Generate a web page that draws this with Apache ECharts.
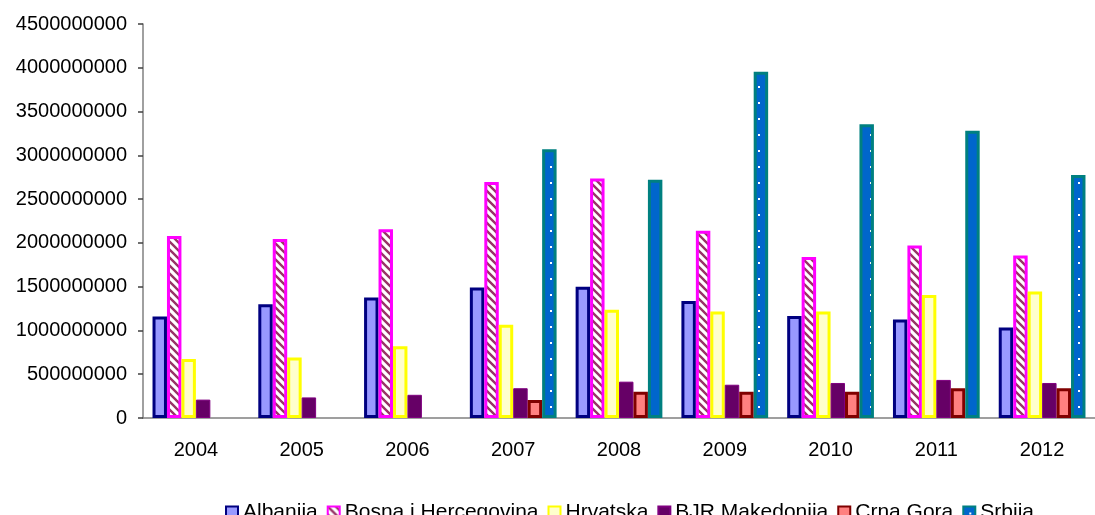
<!DOCTYPE html>
<html>
<head>
<meta charset="utf-8">
<script src="https://cdn.jsdelivr.net/npm/echarts@6/dist/echarts.min.js"></script>
<style>
html,body{margin:0;padding:0;background:#fff;}
#chart{width:1095px;height:515px;}
</style>
</head>
<body>
<div id="chart"></div>
<script>
var years = ['2004','2005','2006','2007','2008','2009','2010','2011','2012'];
var seriesNames = ['Albanija','Bosna i Hercegovina','Hrvatska','BJR Makedonija','Crna Gora','Srbija'];
var albanija   = [1160000000,1300000000,1375000000,1490000000,1500000000,1335000000,1165000000,1125000000,1035000000];
var bosna      = [2080000000,2045000000,2155000000,2695000000,2735000000,2140000000,1840000000,1970000000,1855000000];
var hrvatska   = [675000000,690000000,820000000,1065000000,1235000000,1215000000,1215000000,1405000000,1445000000];
var makedonija = [210000000,235000000,265000000,340000000,415000000,380000000,400000000,435000000,400000000];
var crnaGora   = [null,null,null,205000000,300000000,300000000,300000000,340000000,340000000];
var srbija     = [null,null,null,3070000000,2720000000,3955000000,3355000000,3280000000,2775000000];
var yTicks = {min:0, max:4500000000, interval:500000000};

function stripePattern(){
  var c = document.createElement('canvas');
  c.width = 8; c.height = 8;
  var g = c.getContext('2d');
  g.fillStyle = '#ffffff'; g.fillRect(0,0,8,8);
  g.strokeStyle = '#993366'; g.lineWidth = 2.4;
  g.beginPath();
  g.moveTo(-2,-2); g.lineTo(10,10);
  g.moveTo(-6,2); g.lineTo(2,10);
  g.moveTo(6,-2); g.lineTo(14,6);
  g.stroke();
  return c;
}
function dotPattern(){
  var c = document.createElement('canvas');
  c.width = 16; c.height = 16;
  var g = c.getContext('2d');
  g.fillStyle = '#0066CC'; g.fillRect(0,0,16,16);
  g.fillStyle = '#ffffff';
  g.fillRect(6,6,2,2);
  return c;
}

var styles = [
  {color:'#9999FF', borderColor:'#000080', borderWidth:3},
  {color:{image:stripePattern(), repeat:'repeat'}, borderColor:'#FF00FF', borderWidth:3},
  {color:'#FFFFCC', borderColor:'#FFFF00', borderWidth:3},
  {color:'#660066', borderColor:'#800080', borderWidth:1},
  {color:'#FF8080', borderColor:'#800000', borderWidth:3},
  {color:{image:dotPattern(), repeat:'repeat'}, borderColor:'#008080', borderWidth:3}
];
var dataSets = [albanija,bosna,hrvatska,makedonija,crnaGora,srbija];

var chart = echarts.init(document.getElementById('chart'), null, {renderer:'canvas'});
var series = seriesNames.map(function(n,i){
  return {
    name:n, type:'bar', data:dataSets[i],
    barGap:'0%', barCategoryGap:'18%',
    itemStyle:styles[i],
    emphasis:{disabled:true},
    animation:false
  };
});
chart.setOption({
  animation:false,
  backgroundColor:'#ffffff',
  grid:{left:143, top:24, right:-8, bottom:97, containLabel:false},
  legend:{
    data:seriesNames, left:220, top:497,
    itemWidth:12, itemHeight:12, itemGap:9,
    icon:'rect',
    textStyle:{fontFamily:'Liberation Sans', fontSize:21, color:'#000', lineHeight:21}
  },
  xAxis:{
    type:'category', data:years,
    axisLine:{lineStyle:{color:'#808080', width:1.5}},
    axisTick:{length:7, lineStyle:{color:'#404040', width:1.5}},
    axisLabel:{fontFamily:'Liberation Sans', fontSize:20, color:'#000', margin:22}
  },
  yAxis:{
    type:'value', min:yTicks.min, max:yTicks.max, interval:yTicks.interval,
    splitLine:{show:false},
    axisLine:{show:true, lineStyle:{color:'#808080', width:1.5}},
    axisTick:{show:true, length:5, lineStyle:{color:'#404040', width:1.5}},
    axisLabel:{fontFamily:'Liberation Sans', fontSize:20, color:'#000', margin:16,
      formatter:function(v){return String(v);}}
  },
  series:series
});
</script>
</body>
</html>
